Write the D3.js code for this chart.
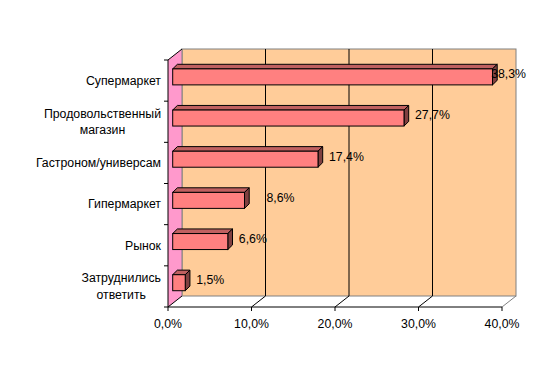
<!DOCTYPE html>
<html>
<head>
<meta charset="utf-8">
<script src="https://cdn.jsdelivr.net/npm/d3@7"></script>
<style>
html,body{margin:0;padding:0;background:#fff;}
svg{display:block;font-family:"Liberation Sans",Arial,sans-serif;}
</style>
</head>
<body>
<svg id="chart" width="536" height="380"></svg>
<script>
// ---- data ----
const categories = ["Супермаркет", "Продовольственный\nмагазин", "Гастроном/универсам", "Гипермаркет", "Рынок", "Затруднились\nответить"];
const values = [38.3, 27.7, 17.4, 8.6, 6.6, 1.5];
const xTicks = [0, 10, 20, 30, 40];

// ---- layout ----
const FS = 12.3;
const svg = d3.select("#chart");
const X0 = 168, XW = 334, YTOP = 60, YBOT = 307;
const WDX = 14, WDY = -11;          // wall depth
const BF = 4.7, BFY = -3.7;         // bar front offset inside depth
const BDX = 4.7, BDY = -4.6;        // bar depth
const BAR_H = 16;

const x = d3.scaleLinear().domain([0, 40]).range([0, XW]);
const y = d3.scaleBand().domain(categories).range([YTOP, YBOT]).padding(0);
const fmt = v => d3.format(".1f")(v).replace(".", ",") + "%";

// back wall
svg.append("rect").attr("x", X0 + WDX).attr("y", YTOP + WDY)
  .attr("width", XW).attr("height", YBOT - YTOP)
  .attr("fill", "#FFCC99").attr("stroke", "#808080").attr("stroke-width", 1);

// left wall
svg.append("polygon")
  .attr("points", [[X0, YTOP], [X0 + WDX, YTOP + WDY], [X0 + WDX, YBOT + WDY], [X0, YBOT]].map(p => p.join(",")).join(" "))
  .attr("fill", "#FF99CC");
svg.append("line").attr("x1", X0 + WDX).attr("x2", X0 + WDX).attr("y1", YTOP + WDY).attr("y2", YBOT + WDY)
  .attr("stroke", "#808080");
svg.append("line").attr("x1", X0).attr("y1", YTOP).attr("x2", X0 + WDX).attr("y2", YTOP + WDY)
  .attr("stroke", "#000");

// gridlines on back wall + floor diagonals
xTicks.forEach(t => {
  const xx = X0 + x(t);
  if (t > 0 && t < 40) {
    svg.append("line").attr("x1", xx + WDX).attr("x2", xx + WDX)
      .attr("y1", YTOP + WDY).attr("y2", YBOT + WDY).attr("stroke", "#000");
  }
  svg.append("line").attr("x1", xx).attr("y1", YBOT).attr("x2", xx + WDX).attr("y2", YBOT + WDY)
    .attr("stroke", t === 40 ? "#808080" : "#000");
});

// bars
const g = svg.append("g");
categories.forEach((c, i) => {
  const v = values[i];
  const cy = y(c) + y.bandwidth() / 2 + BFY;
  const x1 = X0 + BF, x2 = X0 + BF + x(v);
  const yt = cy - BAR_H / 2, yb = cy + BAR_H / 2;
  g.append("polygon")
    .attr("points", [[x1, yt], [x1 + BDX, yt + BDY], [x2 + BDX, yt + BDY], [x2, yt]].map(p => p.join(",")).join(" "))
    .attr("fill", "#C06060").attr("stroke", "#000").attr("stroke-width", 1).attr("stroke-linejoin", "round");
  g.append("polygon")
    .attr("points", [[x2, yt], [x2 + BDX, yt + BDY], [x2 + BDX, yb + BDY], [x2, yb]].map(p => p.join(",")).join(" "))
    .attr("fill", "#804040").attr("stroke", "#000").attr("stroke-width", 1).attr("stroke-linejoin", "round");
  g.append("rect").attr("x", x1).attr("y", yt).attr("width", x2 - x1).attr("height", BAR_H)
    .attr("fill", "#FF8080").attr("stroke", "#000").attr("stroke-width", 1);
});

// value labels
const nudge = {"Гипермаркет": 11};
categories.forEach((c, i) => {
  const v = values[i];
  const cy = y(c) + y.bandwidth() / 2 + BFY - 3;
  const x2 = X0 + BF + x(v);
  const t = svg.append("text").attr("y", cy).attr("dy", "0.35em")
    .attr("font-size", FS).attr("fill", "#000").text(fmt(v));
  const w = t.node().getComputedTextLength();
  let tx = x2 + 11 + (nudge[c] || 0);
  tx = Math.min(tx, 526 - w);
  t.attr("x", tx);
});

// left axis
svg.append("line").attr("x1", X0).attr("x2", X0).attr("y1", YTOP).attr("y2", YBOT).attr("stroke", "#000");
const bounds = categories.map(c => y(c)).concat([YBOT]);
bounds.forEach(b => {
  svg.append("line").attr("x1", X0 - 4).attr("x2", X0).attr("y1", b).attr("y2", b).attr("stroke", "#000");
});
categories.forEach(c => {
  const lines = c.split("\n");
  const cy = y(c) + y.bandwidth() / 2;
  const lh = 16.5;
  const t = svg.append("text").attr("font-size", FS).attr("fill", "#000").attr("text-anchor", "middle");
  const tmp = svg.append("text").attr("font-size", FS);
  let maxW = 0;
  lines.forEach(l => { tmp.text(l); maxW = Math.max(maxW, tmp.node().getComputedTextLength()); });
  tmp.remove();
  const cx = 161 - maxW / 2;
  lines.forEach((l, k) => {
    t.append("tspan").attr("x", cx).attr("y", cy + (k - (lines.length - 1) / 2) * lh).attr("dy", "0.35em").text(l);
  });
});

// bottom axis
svg.append("line").attr("x1", X0).attr("x2", X0 + XW).attr("y1", YBOT).attr("y2", YBOT).attr("stroke", "#000");
xTicks.forEach(t => {
  const xx = X0 + x(t);
  svg.append("line").attr("x1", xx).attr("x2", xx).attr("y1", YBOT).attr("y2", YBOT + 4).attr("stroke", "#000");
  svg.append("text").attr("x", xx).attr("y", 323.5).attr("dy", "0.35em").attr("text-anchor", "middle")
    .attr("font-size", FS).attr("fill", "#000").text(fmt(t));
});
</script>
</body>
</html>
